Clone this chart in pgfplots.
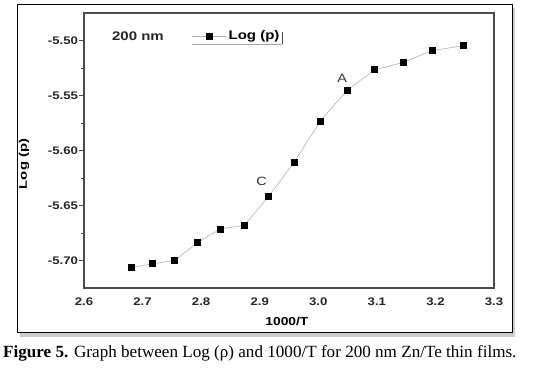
\documentclass[border=0pt]{standalone}
\usepackage{fontspec}
\setmainfont{Liberation Serif}
\newfontfamily\arial{Liberation Sans}
\usepackage{graphicx}
\usepackage{pgfplots}
\pgfplotsset{compat=1.18}
\newcommand{\sx}[1]{\scalebox{1.2}[1]{#1}}
\begin{document}
\begin{tikzpicture}[x=1pt,y=1pt]
\useasboundingbox (0,0) rectangle (533,372);
\fill[gray!40] (20,35) rectangle (515,364);
\filldraw[fill=white,draw=black,line width=1pt] (17,39) rectangle (512,367);
\begin{axis}[
  at={(84pt,84pt)}, anchor=south west, scale only axis,
  width=410pt, height=275pt,
  xmin=2.6, xmax=3.3, ymin=-5.725, ymax=-5.475,
  xtick={2.6,2.7,2.8,2.9,3.0,3.1,3.2,3.3},
  ytick={-5.70,-5.65,-5.60,-5.55,-5.50},
  minor y tick num=1,
  ytick pos=left, xtick pos=bottom,
  axis line style={draw=black!70, line width=1.6pt},
  tick align=outside,
  tick style={draw=black!70, line width=0.8pt},
  major tick length=5pt, minor tick length=3pt,
  x tick style={draw=none},
  /pgf/number format/assume math mode=true,
  xticklabel={\sx{\pgfmathprintnumber[fixed,fixed zerofill,precision=1]{\tick}}},
  yticklabel={\sx{\pgfmathprintnumber[fixed,fixed zerofill,precision=2]{\tick}}},
  ticklabel style={font=\arial\bfseries\fontsize{11}{13}\selectfont, text=black!85},
  yticklabel style={xshift=2.5pt},
  xticklabel style={yshift=-1pt},
  xlabel={\sx{1000/T}},
  xlabel style={at={(axis description cs:0.495,-0.122)}, anchor=center, font=\arial\bfseries\fontsize{11.5}{13}\selectfont},
  ylabel={\scalebox{1.35}[1]{Log (p)}},
  ylabel style={at={(axis description cs:-0.146,0.451)}, anchor=center, font=\arial\bfseries\fontsize{11}{13}\selectfont},
  legend style={at={(rel axis cs:0.263,0.916)}, anchor=west, draw=none, fill=none, inner sep=0pt,
    font=\arial\bfseries\fontsize{12.5}{14}\selectfont},
  legend image code/.code={\draw[mark repeat=2,mark phase=2,#1] plot coordinates {(0pt,0pt) (17pt,0pt) (34pt,0pt)};},
  clip=false,
]
\addplot[gray!60, line width=0.6pt, mark=square*, mark size=3pt, mark options={black, fill=black, solid}]
coordinates {
(2.6810,-5.7066)
(2.7174,-5.7030)
(2.7548,-5.7000)
(2.7933,-5.6839)
(2.8329,-5.6712)
(2.8736,-5.6682)
(2.9155,-5.6415)
(2.9586,-5.6109)
(3.0030,-5.5736)
(3.0488,-5.5455)
(3.0960,-5.5266)
(3.1447,-5.5200)
(3.1949,-5.5091)
(3.2468,-5.5048)
};
\addlegendentry{\sx{Log (p)}}
\node[font=\arial\fontsize{12}{14}\selectfont, text=black!80] at (axis cs:2.903,-5.628) {\sx{C}};
\node[font=\arial\fontsize{12}{14}\selectfont, text=black!80] at (axis cs:3.041,-5.5348) {\sx{A}};
\end{axis}
\node[font=\arial\bfseries\fontsize{12.5}{14}\selectfont, text=black!85] at (138,336) {\sx{200 nm}};
\draw[gray!70, line width=0.8pt] (192,328) -- (282,328);
\draw[black!70, line width=0.6pt] (282,327.5) -- (282,340);
\node[anchor=base west, inner sep=0pt, font=\fontsize{17.1}{20}\selectfont] at (3,14) {\textbf{Figure 5.} Graph between Log (ρ) and 1000/T for 200 nm Zn/Te thin films.};
\end{tikzpicture}
\end{document}
